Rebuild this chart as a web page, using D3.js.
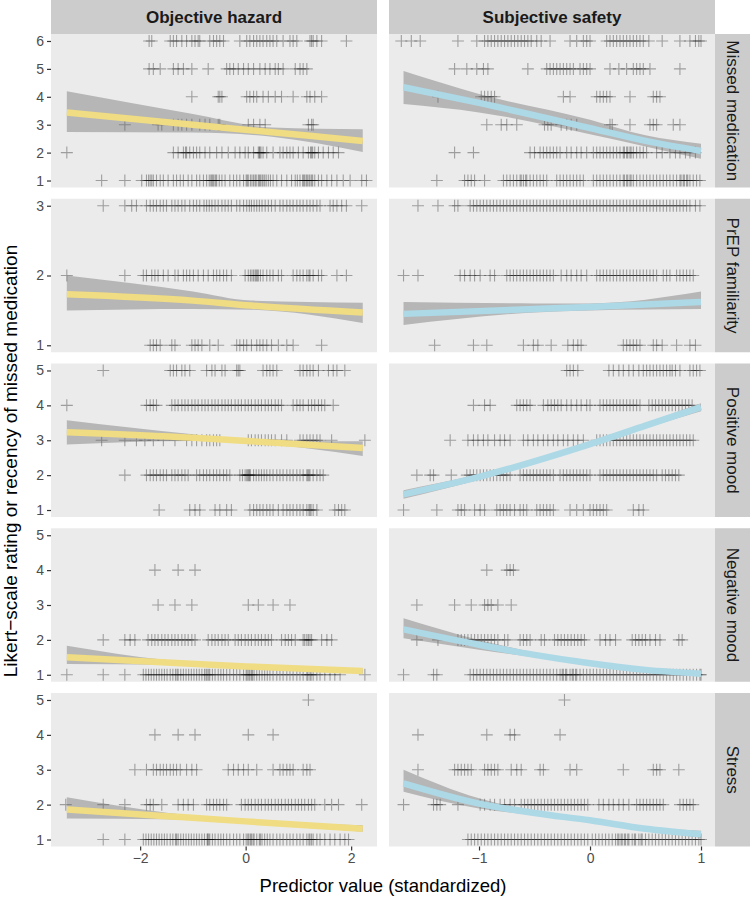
<!DOCTYPE html>
<html>
<head>
<meta charset="utf-8">
<script src="https://cdn.jsdelivr.net/npm/d3@7"></script>
<style>
  body { margin: 0; background: #fff; }
  svg text { font-family: "Liberation Sans", Arial, sans-serif; }
</style>
</head>
<body>
<svg id="chart" width="750" height="898"></svg>
<script>
// facet labels and levels
var colNames = ["Objective hazard", "Subjective safety"];
var rowNames = ["Missed medication", "PrEP familiarity", "Positive mood", "Negative mood", "Stress"];
var rowLevels = [[1,2,3,4,5,6],[1,2,3],[1,2,3,4,5],[1,2,3,4,5],[1,2,3,4,5]];
var xTicks = [[-2,0,2],[-1,0,1]];
var lineColors = ["#F0DC82", "#ADD8E6"];

// raw observations: x values of the predictor, one array per response level (index 0 = level 1)
var hazardMissed = [
  [-2.73,-2.29,-1.97,-1.88,-1.84,-1.81,-1.78,-1.75,-1.69,-1.62,-1.56,-1.47,-1.37,-1.31,-1.24,-1.18,-1.09,-1.02,-0.93,-0.87,-0.80,-0.74,-0.69,-0.66,-0.64,-0.62,-0.60,-0.57,-0.55,-0.50,-0.45,-0.39,-0.30,-0.23,-0.17,-0.11,-0.04,0.01,0.03,0.05,0.09,0.12,0.15,0.18,0.20,0.24,0.26,0.28,0.31,0.33,0.36,0.39,0.43,0.47,0.52,0.59,0.68,0.78,0.87,0.94,0.98,1.03,1.08,1.10,1.12,1.15,1.17,1.20,1.22,1.25,1.27,1.31,1.38,1.44,1.54,1.63,1.73,1.85,1.98,2.20,2.29],
  [-3.39,-1.37,-1.28,-1.18,-1.14,-1.12,-1.06,-0.99,-0.93,-0.87,-0.77,-0.68,-0.55,-0.45,-0.33,-0.20,-0.11,-0.01,0.05,0.15,0.24,0.26,0.27,0.29,0.33,0.40,0.52,0.65,0.71,0.78,0.84,0.90,1.00,1.09,1.19,1.23,1.25,1.27,1.31,1.38,1.47,1.57,1.66,1.76],
  [-2.29,-1.66,-1.59,-1.37,-1.28,-1.21,-1.12,-1.02,-0.87,-0.77,-0.68,-0.52,-0.49,0.05,0.15,0.27,0.37,1.19,1.25,1.28],
  [-1.02,-0.52,-0.49,-0.45,0.02,0.08,0.15,0.21,0.33,0.43,0.56,0.68,0.90,1.16,1.22,1.31,1.44],
  [-1.83,-1.75,-1.62,-1.37,-1.28,-1.18,-1.02,-0.71,-0.36,-0.30,-0.23,-0.14,-0.04,0.05,0.15,0.27,0.37,0.46,0.56,0.62,0.71,0.94,1.03,1.09,1.16],
  [-1.83,-1.78,-1.43,-1.37,-1.31,-1.21,-1.12,-1.02,-0.96,-0.90,-0.87,-0.68,-0.61,-0.55,-0.49,-0.42,-0.11,0.02,0.08,0.15,0.21,0.27,0.33,0.40,0.46,0.52,0.59,0.71,0.84,0.90,0.97,1.22,1.25,1.28,1.35,1.44,1.91]
];
var hazardPrep = [
  [-1.81,-1.75,-1.69,-1.62,-1.40,-1.34,-1.02,-0.96,-0.90,-0.83,-0.68,-0.52,-0.17,-0.11,-0.04,0.02,0.11,0.21,0.27,0.33,0.40,0.49,0.62,0.78,0.90,1.44],
  [-3.39,-2.29,-1.94,-1.88,-1.78,-1.72,-1.66,-1.56,-1.47,-1.34,-1.28,-1.18,-1.12,-1.06,-0.99,-0.90,-0.80,-0.71,-0.61,-0.55,-0.49,-0.42,-0.36,-0.27,-0.01,0.05,0.09,0.12,0.15,0.18,0.20,0.22,0.24,0.28,0.33,0.40,0.46,0.52,0.62,0.68,0.90,0.97,1.03,1.09,1.16,1.20,1.22,1.28,1.38,1.44,1.73,1.91],
  [-2.70,-2.29,-2.16,-2.07,-1.88,-1.81,-1.75,-1.69,-1.62,-1.56,-1.50,-1.40,-1.34,-1.28,-1.21,-1.15,-1.06,-0.99,-0.93,-0.87,-0.79,-0.74,-0.69,-0.64,-0.58,-0.52,-0.45,-0.39,-0.33,-0.27,-0.17,-0.11,-0.04,0.02,0.07,0.11,0.16,0.21,0.26,0.31,0.37,0.43,0.49,0.56,0.65,0.71,0.78,0.84,0.90,0.97,1.03,1.09,1.16,1.22,1.28,1.35,1.41,1.60,1.66,1.73,1.82,1.91,2.20]
];
var hazardPositive = [
  [-1.64,-1.06,-0.96,-0.87,-0.58,-0.49,-0.36,-0.27,0.08,0.15,0.21,0.27,0.33,0.40,0.46,0.52,0.62,0.71,0.78,0.84,0.90,0.97,1.03,1.09,1.16,1.20,1.22,1.24,1.28,1.35,1.69,1.76,1.82,1.88],
  [-2.29,-1.88,-1.81,-1.75,-1.69,-1.62,-1.56,-1.50,-1.40,-1.34,-1.28,-1.21,-1.15,-1.09,-0.93,-0.87,-0.80,-0.74,-0.68,-0.61,-0.55,-0.49,-0.42,-0.36,-0.30,-0.11,-0.06,-0.01,0.02,0.04,0.06,0.07,0.09,0.15,0.20,0.25,0.30,0.35,0.40,0.46,0.52,0.59,0.65,0.71,0.78,0.84,0.90,0.97,1.03,1.09,1.16,1.18,1.20,1.22,1.28,1.35,1.41,1.47],
  [-2.73,-2.29,-2.07,-1.91,-1.75,-1.56,-1.34,-1.12,-1.02,-0.93,-0.83,-0.74,-0.68,-0.61,-0.55,-0.49,0.05,0.11,0.18,0.24,0.30,0.37,0.43,0.49,0.56,0.68,0.78,1.03,1.09,1.16,1.22,1.28,1.35,1.41,1.63,2.26],
  [-3.39,-1.88,-1.81,-1.75,-1.69,-1.40,-1.34,-1.28,-1.21,-1.15,-1.09,-1.02,-0.96,-0.90,-0.83,-0.77,-0.71,-0.64,-0.58,-0.52,-0.45,-0.39,-0.33,-0.27,-0.20,-0.14,-0.08,-0.01,0.05,0.11,0.18,0.24,0.30,0.37,0.43,0.49,0.56,0.62,0.68,0.90,0.97,1.03,1.09,1.19,1.25,1.31,1.38,1.44,1.50,1.66],
  [-2.70,-1.43,-1.37,-1.31,-1.21,-1.15,-1.06,-0.74,-0.64,-0.58,-0.45,-0.39,-0.17,-0.14,-0.11,0.33,0.40,0.46,0.52,0.59,1.03,1.09,1.16,1.22,1.28,1.38,1.57,1.66,1.73,1.88]
];
var hazardNegative = [
  [-3.39,-2.70,-2.29,-1.94,-1.89,-1.84,-1.79,-1.74,-1.69,-1.64,-1.59,-1.54,-1.49,-1.43,-1.38,-1.33,-1.30,-1.28,-1.23,-1.18,-1.13,-1.08,-1.03,-0.98,-0.93,-0.88,-0.83,-0.78,-0.75,-0.73,-0.70,-0.68,-0.63,-0.58,-0.52,-0.47,-0.42,-0.36,-0.30,-0.23,-0.17,-0.11,-0.04,0.01,0.03,0.06,0.08,0.11,0.13,0.16,0.21,0.26,0.31,0.36,0.41,0.46,0.52,0.59,0.65,0.71,0.78,0.84,0.90,0.97,1.03,1.09,1.16,1.18,1.22,1.24,1.28,1.35,1.41,1.50,1.60,1.69,1.79,2.26],
  [-2.70,-2.29,-2.19,-2.10,-1.85,-1.78,-1.72,-1.66,-1.59,-1.53,-1.47,-1.40,-1.34,-1.28,-1.21,-1.15,-1.09,-1.02,-0.96,-0.71,-0.64,-0.58,-0.52,-0.45,-0.39,-0.33,-0.20,-0.14,-0.08,-0.01,0.05,0.11,0.18,0.24,0.30,0.37,0.43,0.49,0.68,0.75,0.81,0.87,0.94,1.09,1.12,1.16,1.19,1.22,1.25,1.44,1.54,1.63],
  [-1.66,-1.34,-1.02,0.05,0.24,0.52,0.84],
  [-1.72,-1.28,-0.96],
  []
];
var hazardStress = [
  [-2.70,-2.29,-1.94,-1.89,-1.84,-1.79,-1.74,-1.69,-1.64,-1.59,-1.54,-1.49,-1.43,-1.38,-1.33,-1.31,-1.28,-1.23,-1.18,-1.13,-1.08,-1.03,-0.98,-0.93,-0.88,-0.83,-0.78,-0.73,-0.72,-0.70,-0.68,-0.63,-0.58,-0.52,-0.47,-0.42,-0.36,-0.30,-0.23,-0.17,-0.11,-0.04,0.01,0.04,0.06,0.09,0.11,0.14,0.16,0.21,0.26,0.28,0.31,0.36,0.41,0.46,0.52,0.59,0.65,0.71,0.78,0.84,0.90,0.97,1.03,1.09,1.16,1.20,1.22,1.25,1.28,1.35,1.41,1.50,1.60,1.69,1.79,1.88,1.95],
  [-3.41,-2.70,-2.29,-1.88,-1.81,-1.75,-1.59,-1.28,-1.18,-1.09,-0.99,-0.74,-0.68,-0.61,-0.55,-0.49,-0.42,-0.36,-0.08,-0.01,0.05,0.11,0.18,0.24,0.30,0.37,0.43,0.49,0.56,0.62,0.68,0.75,0.81,0.87,0.94,1.00,1.06,1.12,1.19,1.25,1.31,1.50,1.63,1.76,2.20],
  [-2.10,-1.88,-1.75,-1.69,-1.62,-1.56,-1.50,-1.43,-1.37,-1.31,-1.24,-1.12,-1.02,-0.93,-0.33,-0.23,-0.14,-0.04,0.05,0.21,0.52,0.65,0.71,0.78,0.84,0.90,1.09,1.16,1.22],
  [-1.72,-1.28,-0.96,0.05,0.52],
  [1.19]
];

var safetyMissed = [
  [-1.38,-1.13,-1.10,-1.07,-1.04,-0.95,-0.78,-0.75,-0.72,-0.69,-0.66,-0.63,-0.62,-0.60,-0.58,-0.57,-0.54,-0.51,-0.48,-0.45,-0.42,-0.39,-0.30,-0.27,-0.24,-0.21,-0.18,-0.15,-0.12,-0.09,-0.06,0.03,0.06,0.09,0.12,0.15,0.18,0.21,0.24,0.27,0.30,0.31,0.33,0.34,0.36,0.37,0.39,0.42,0.45,0.48,0.51,0.54,0.57,0.60,0.63,0.66,0.69,0.72,0.75,0.78,0.81,0.82,0.84,0.85,0.87,0.88,0.90,0.93,0.96,0.99],
  [-1.22,-1.05,-0.54,-0.50,-0.45,-0.42,-0.39,-0.36,-0.33,-0.30,-0.27,-0.21,-0.17,-0.12,-0.08,-0.03,0.03,0.06,0.09,0.12,0.15,0.18,0.21,0.24,0.27,0.30,0.31,0.33,0.34,0.36,0.37,0.39,0.42,0.45,0.48,0.51,0.60,0.65,0.72,0.77,0.81,0.86,0.90,0.95],
  [-0.93,-0.80,-0.75,-0.66,-0.41,-0.38,-0.35,-0.26,-0.21,-0.17,-0.12,0.18,0.20,0.36,0.54,0.57,0.60,0.75,0.81],
  [-1.37,-0.98,-0.95,-0.92,-0.89,-0.86,-0.24,-0.18,0.06,0.09,0.12,0.15,0.18,0.36,0.57,0.60,0.63],
  [-1.22,-1.11,-1.02,-0.96,-0.92,-0.56,-0.39,-0.36,-0.33,-0.30,-0.27,-0.24,-0.21,-0.18,-0.15,-0.09,-0.06,-0.03,0.00,0.18,0.26,0.33,0.39,0.42,0.45,0.48,0.54,0.81],
  [-1.70,-1.61,-1.53,-1.19,-1.02,-0.95,-0.92,-0.89,-0.86,-0.83,-0.80,-0.77,-0.74,-0.71,-0.68,-0.65,-0.62,-0.59,-0.56,-0.53,-0.48,-0.44,-0.36,-0.18,-0.12,-0.06,-0.03,0.00,0.15,0.18,0.21,0.24,0.27,0.30,0.33,0.36,0.39,0.42,0.45,0.48,0.53,0.65,0.81,0.90,0.95,0.98,1.00]
];
var safetyPrep = [
  [-1.40,-1.05,-0.93,-0.60,-0.51,-0.47,-0.35,-0.20,-0.15,-0.11,-0.08,0.30,0.33,0.36,0.39,0.42,0.45,0.57,0.60,0.65,0.78,0.90,0.95],
  [-1.68,-1.55,-1.17,-1.13,-1.08,-1.04,-0.99,-0.90,-0.86,-0.75,-0.72,-0.69,-0.66,-0.63,-0.60,-0.57,-0.54,-0.51,-0.48,-0.45,-0.42,-0.39,-0.36,-0.33,-0.26,-0.21,-0.17,-0.12,-0.08,-0.03,0.06,0.09,0.12,0.15,0.18,0.21,0.24,0.27,0.30,0.33,0.36,0.39,0.42,0.45,0.48,0.51,0.54,0.57,0.60,0.66,0.69,0.72,0.78,0.81,0.84,0.87,0.90,0.93],
  [-1.55,-1.37,-1.22,-1.19,-1.08,-1.05,-1.02,-0.99,-0.96,-0.93,-0.90,-0.87,-0.84,-0.81,-0.78,-0.75,-0.72,-0.69,-0.66,-0.63,-0.60,-0.57,-0.54,-0.51,-0.48,-0.45,-0.42,-0.39,-0.36,-0.33,-0.30,-0.27,-0.24,-0.21,-0.18,-0.15,-0.12,-0.09,-0.06,-0.03,0.00,0.03,0.06,0.09,0.12,0.15,0.18,0.21,0.24,0.27,0.30,0.33,0.36,0.39,0.42,0.45,0.48,0.51,0.54,0.57,0.60,0.63,0.66,0.69,0.72,0.75,0.78,0.81,0.84,0.87,0.90,0.95,0.99]
];
var safetyPositive = [
  [-1.68,-1.38,-1.19,-1.16,-1.13,-1.04,-0.99,-0.95,-0.84,-0.81,-0.78,-0.75,-0.72,-0.68,-0.63,-0.60,-0.57,-0.48,-0.45,-0.42,-0.39,-0.36,-0.33,-0.18,-0.12,-0.06,0.00,0.03,0.06,0.09,0.12,0.15,0.39,0.44,0.48],
  [-1.56,-1.44,-1.41,-1.25,-1.11,-1.08,-1.05,-1.02,-0.99,-0.96,-0.93,-0.90,-0.87,-0.84,-0.81,-0.78,-0.75,-0.72,-0.63,-0.60,-0.57,-0.54,-0.51,-0.48,-0.45,-0.42,-0.39,-0.36,-0.33,-0.27,-0.24,-0.21,-0.18,-0.15,-0.12,-0.09,-0.06,-0.03,0.00,0.09,0.12,0.15,0.18,0.21,0.24,0.27,0.30,0.33,0.36,0.39,0.42,0.45,0.48,0.51,0.54,0.57,0.60,0.65,0.68,0.71,0.74,0.77,0.80],
  [-1.26,-1.10,-1.05,-1.01,-0.96,-0.92,-0.86,-0.81,-0.77,-0.72,-0.60,-0.56,-0.51,-0.47,-0.42,-0.38,-0.33,-0.29,-0.24,-0.20,-0.15,-0.11,-0.06,0.06,0.09,0.12,0.15,0.18,0.21,0.24,0.27,0.30,0.33,0.36,0.39,0.42,0.45,0.48,0.51,0.54,0.57,0.60,0.63,0.66,0.69,0.72,0.75,0.78,0.81,0.84,0.87,0.90,0.93],
  [-1.05,-0.95,-0.90,-0.66,-0.63,-0.60,-0.57,-0.54,-0.42,-0.38,-0.35,-0.32,-0.29,-0.26,-0.21,-0.17,-0.12,-0.08,-0.03,0.00,0.09,0.12,0.15,0.18,0.21,0.24,0.27,0.30,0.33,0.36,0.39,0.42,0.45,0.53,0.56,0.59,0.62,0.65,0.68,0.71,0.74,0.77,0.80,0.83,0.86,0.89,0.92],
  [-0.21,-0.18,-0.15,-0.11,0.17,0.21,0.26,0.30,0.35,0.39,0.44,0.48,0.51,0.54,0.57,0.60,0.63,0.66,0.69,0.72,0.74,0.77,0.81,0.90,0.93,0.96,0.99]
];
var safetyNegative = [
  [-1.68,-1.41,-1.38,-1.08,-1.05,-1.02,-0.99,-0.96,-0.93,-0.90,-0.87,-0.84,-0.81,-0.78,-0.75,-0.72,-0.69,-0.66,-0.63,-0.60,-0.57,-0.54,-0.51,-0.48,-0.45,-0.42,-0.39,-0.36,-0.33,-0.30,-0.27,-0.25,-0.24,-0.22,-0.21,-0.18,-0.16,-0.15,-0.13,-0.12,-0.09,-0.06,-0.03,0.00,0.03,0.06,0.09,0.12,0.15,0.18,0.21,0.24,0.27,0.30,0.33,0.36,0.39,0.42,0.45,0.48,0.51,0.54,0.57,0.60,0.63,0.66,0.69,0.72,0.75,0.78,0.81,0.84,0.87,0.90,0.93,0.96,0.99,1.00],
  [-1.56,-1.37,-1.19,-1.16,-1.13,-1.10,-1.07,-1.04,-1.01,-0.98,-0.95,-0.92,-0.89,-0.86,-0.83,-0.77,-0.74,-0.63,-0.60,-0.57,-0.54,-0.44,-0.41,-0.32,-0.29,-0.26,-0.23,-0.20,-0.17,-0.14,-0.11,-0.08,-0.05,0.09,0.14,0.18,0.23,0.38,0.41,0.44,0.47,0.50,0.54,0.59,0.63,0.80,0.83],
  [-1.56,-1.22,-1.07,-0.95,-0.92,-0.89,-0.83,-0.71],
  [-0.93,-0.75,-0.72,-0.69],
  []
];
var safetyStress = [
  [-1.10,-1.07,-1.04,-1.01,-0.98,-0.95,-0.92,-0.89,-0.86,-0.83,-0.80,-0.77,-0.74,-0.71,-0.68,-0.65,-0.62,-0.59,-0.56,-0.53,-0.50,-0.47,-0.44,-0.41,-0.38,-0.35,-0.32,-0.29,-0.26,-0.23,-0.20,-0.17,-0.14,-0.11,-0.08,-0.05,-0.02,0.02,0.05,0.08,0.11,0.14,0.17,0.20,0.23,0.25,0.26,0.28,0.29,0.31,0.32,0.34,0.35,0.38,0.40,0.41,0.44,0.46,0.47,0.50,0.53,0.56,0.59,0.62,0.65,0.68,0.71,0.74,0.77,0.80,0.83,0.86,0.89,0.92,0.95,0.98,1.00],
  [-1.68,-1.41,-1.38,-1.35,-1.19,-0.99,-0.95,-0.90,-0.86,-0.81,-0.77,-0.72,-0.68,-0.62,-0.59,-0.56,-0.53,-0.50,-0.47,-0.44,-0.41,-0.38,-0.35,-0.32,-0.29,-0.26,-0.23,-0.20,-0.17,-0.14,-0.11,-0.08,-0.05,-0.02,0.08,0.12,0.17,0.21,0.26,0.30,0.35,0.42,0.45,0.48,0.51,0.54,0.57,0.60,0.63,0.66,0.81,0.84,0.87,0.90,0.93],
  [-1.55,-1.22,-1.19,-1.16,-1.13,-1.10,-1.07,-0.95,-0.92,-0.89,-0.86,-0.83,-0.71,-0.66,-0.62,-0.45,-0.42,-0.18,-0.12,0.30,0.57,0.60,0.63,0.80],
  [-1.55,-0.93,-0.72,-0.68,-0.27],
  [-0.23]
];

// model fits: [x, fit, lower, upper]
var fitHazardMissed = [[-3.39,3.44,2.74,4.20],[-1.0,3.00,2.72,3.38],[0.5,2.73,2.57,2.90],[2.22,2.42,2.02,2.84]];
var fitHazardPrep = [[-3.39,1.73,1.50,2.00],[-1.0,1.64,1.52,1.77],[0.1,1.57,1.51,1.64],[2.22,1.47,1.32,1.61]];
var fitHazardPositive = [[-3.39,3.23,2.88,3.57],[-1.0,3.07,2.98,3.17],[0.1,2.97,2.93,3.01],[2.22,2.78,2.55,2.97]];
var fitHazardNegative = [[-3.39,1.50,1.31,1.83],[-1.5,1.35,1.29,1.42],[0.0,1.24,1.21,1.27],[2.22,1.11,1.04,1.18]];
var fitHazardStress = [[-3.39,1.86,1.60,2.21],[-1.5,1.67,1.58,1.77],[0.0,1.52,1.49,1.55],[2.22,1.31,1.22,1.41]];
var fitSafetyMissed = [[-1.68,4.34,3.74,4.92],[-1.0,3.78,3.44,4.10],[0.0,2.88,2.66,3.18],[0.5,2.42,2.22,2.62],[1.0,2.06,1.78,2.32]];
var fitSafetyPrep = [[-1.68,1.45,1.29,1.62],[-0.5,1.52,1.47,1.60],[0.0,1.55,1.50,1.60],[1.0,1.62,1.52,1.77]];
var fitSafetyPositive = [[-1.68,1.45,1.32,1.57],[-1.0,1.95,1.87,2.03],[0.0,2.89,2.83,2.95],[0.5,3.42,3.35,3.49],[1.0,3.95,3.83,4.06]];
var fitSafetyNegative = [[-1.68,2.30,2.05,2.62],[-1.0,1.86,1.72,2.00],[-0.5,1.57,1.50,1.64],[0.0,1.33,1.30,1.36],[0.5,1.14,1.11,1.18],[1.0,1.03,0.99,1.07]];
var fitSafetyStress = [[-1.68,2.61,2.37,3.00],[-1.0,2.03,1.89,2.18],[-0.5,1.76,1.70,1.82],[0.0,1.55,1.51,1.59],[0.5,1.31,1.27,1.36],[1.0,1.15,1.05,1.25]];

var points = [
  [hazardMissed, safetyMissed],
  [hazardPrep, safetyPrep],
  [hazardPositive, safetyPositive],
  [hazardNegative, safetyNegative],
  [hazardStress, safetyStress]
];
var fits = [
  [fitHazardMissed, fitSafetyMissed],
  [fitHazardPrep, fitSafetyPrep],
  [fitHazardPositive, fitSafetyPositive],
  [fitHazardNegative, fitSafetyNegative],
  [fitHazardStress, fitSafetyStress]
];

// layout
var colX = [51, 389];
var panelW = 326;
var rowY0 = 34, rowStep = 164.75, panelH = 153.5;
var stripH = 34, stripW = 35;

var svg = d3.select("#chart");

var xScales = [
  d3.scaleLinear().domain([-3.69, 2.49]).range([colX[0], colX[0] + panelW]),
  d3.scaleLinear().domain([-1.811, 1.126]).range([colX[1], colX[1] + panelW])
];

// column strips
colNames.forEach(function(name, c) {
  svg.append("rect")
    .attr("x", colX[c]).attr("y", 0)
    .attr("width", panelW).attr("height", stripH)
    .attr("fill", "#CCCCCC");
  svg.append("text")
    .attr("x", colX[c] + panelW / 2).attr("y", stripH / 2)
    .attr("dy", "0.35em")
    .attr("text-anchor", "middle")
    .attr("font-size", "17px")
    .attr("font-weight", "bold")
    .attr("fill", "#1A1A1A")
    .text(name);
});

var cross = "M-6,0H6M0,-6V6";

rowNames.forEach(function(rowName, r) {
  var top = rowY0 + r * rowStep;
  var lv = rowLevels[r];
  var pad = (lv.length - 1) * 0.05;
  var y = d3.scaleLinear().domain([1 - pad, lv.length + pad]).range([top + panelH, top]);

  colNames.forEach(function(colName, c) {
    var x = xScales[c];
    var g = svg.append("g");

    g.append("rect")
      .attr("x", colX[c]).attr("y", top)
      .attr("width", panelW).attr("height", panelH)
      .attr("fill", "#EBEBEB");

    // observations as + marks
    var obs = [];
    points[r][c].forEach(function(arr, i) {
      arr.forEach(function(v) { obs.push({x: v, y: lv[i]}); });
    });
    g.append("g").selectAll("path")
      .data(obs)
      .enter().append("path")
      .attr("d", cross)
      .attr("transform", function(d) { return "translate(" + x(d.x) + "," + y(d.y) + ")"; })
      .attr("stroke", "#000")
      .attr("stroke-opacity", 0.33)
      .attr("stroke-width", 1.1)
      .attr("fill", "none");

    // confidence band
    var area = d3.area()
      .x(function(d) { return x(d[0]); })
      .y0(function(d) { return y(d[2]); })
      .y1(function(d) { return y(d[3]); })
      .curve(d3.curveMonotoneX);
    g.append("path")
      .datum(fits[r][c])
      .attr("d", area)
      .attr("fill", "#666666")
      .attr("fill-opacity", 0.4);

    // fitted line
    var line = d3.line()
      .x(function(d) { return x(d[0]); })
      .y(function(d) { return y(d[1]); })
      .curve(d3.curveMonotoneX);
    g.append("path")
      .datum(fits[r][c])
      .attr("d", line)
      .attr("fill", "none")
      .attr("stroke", lineColors[c])
      .attr("stroke-width", 6.5);

    // y axis only on the left column
    if (c === 0) {
      var ya = svg.append("g")
        .attr("transform", "translate(" + colX[0] + ",0)")
        .call(d3.axisLeft(y).tickValues(lv).tickSize(4).tickPadding(3).tickFormat(d3.format("d")));
      ya.select(".domain").remove();
      ya.selectAll("line").attr("stroke", "#333333").attr("stroke-width", 1.2);
      ya.selectAll("text").attr("font-size", "14px").attr("fill", "#4D4D4D")
        .style("font-family", "'Liberation Sans', Arial, sans-serif");
    }

    // x axis only on the bottom row
    if (r === rowNames.length - 1) {
      var xa = svg.append("g")
        .attr("transform", "translate(0," + (top + panelH) + ")")
        .call(d3.axisBottom(x).tickValues(xTicks[c]).tickSize(4).tickPadding(3).tickFormat(d3.format("d")));
      xa.select(".domain").remove();
      xa.selectAll("line").attr("stroke", "#333333").attr("stroke-width", 1.2);
      xa.selectAll("text").attr("font-size", "14px").attr("fill", "#4D4D4D")
        .style("font-family", "'Liberation Sans', Arial, sans-serif");
    }
  });

  // row strip on the right
  var sx = colX[1] + panelW;
  svg.append("rect")
    .attr("x", sx).attr("y", top)
    .attr("width", stripW).attr("height", panelH)
    .attr("fill", "#CCCCCC");
  svg.append("text")
    .attr("transform", "translate(" + (sx + stripW / 2) + "," + (top + panelH / 2) + ") rotate(90)")
    .attr("dy", "0.35em")
    .attr("text-anchor", "middle")
    .attr("font-size", "17px")
    .attr("fill", "#1A1A1A")
    .text(rowName);
});

// axis titles
svg.append("text")
  .attr("x", (colX[0] + colX[1] + panelW) / 2)
  .attr("y", 892)
  .attr("text-anchor", "middle")
  .attr("font-size", "18.5px")
  .attr("fill", "#000")
  .text("Predictor value (standardized)");

svg.append("text")
  .attr("transform", "translate(17,461) rotate(-90)")
  .attr("text-anchor", "middle")
  .attr("font-size", "19px")
  .attr("fill", "#000")
  .text("Likert\u2212scale rating or recency of missed medication");
</script>
</body>
</html>
